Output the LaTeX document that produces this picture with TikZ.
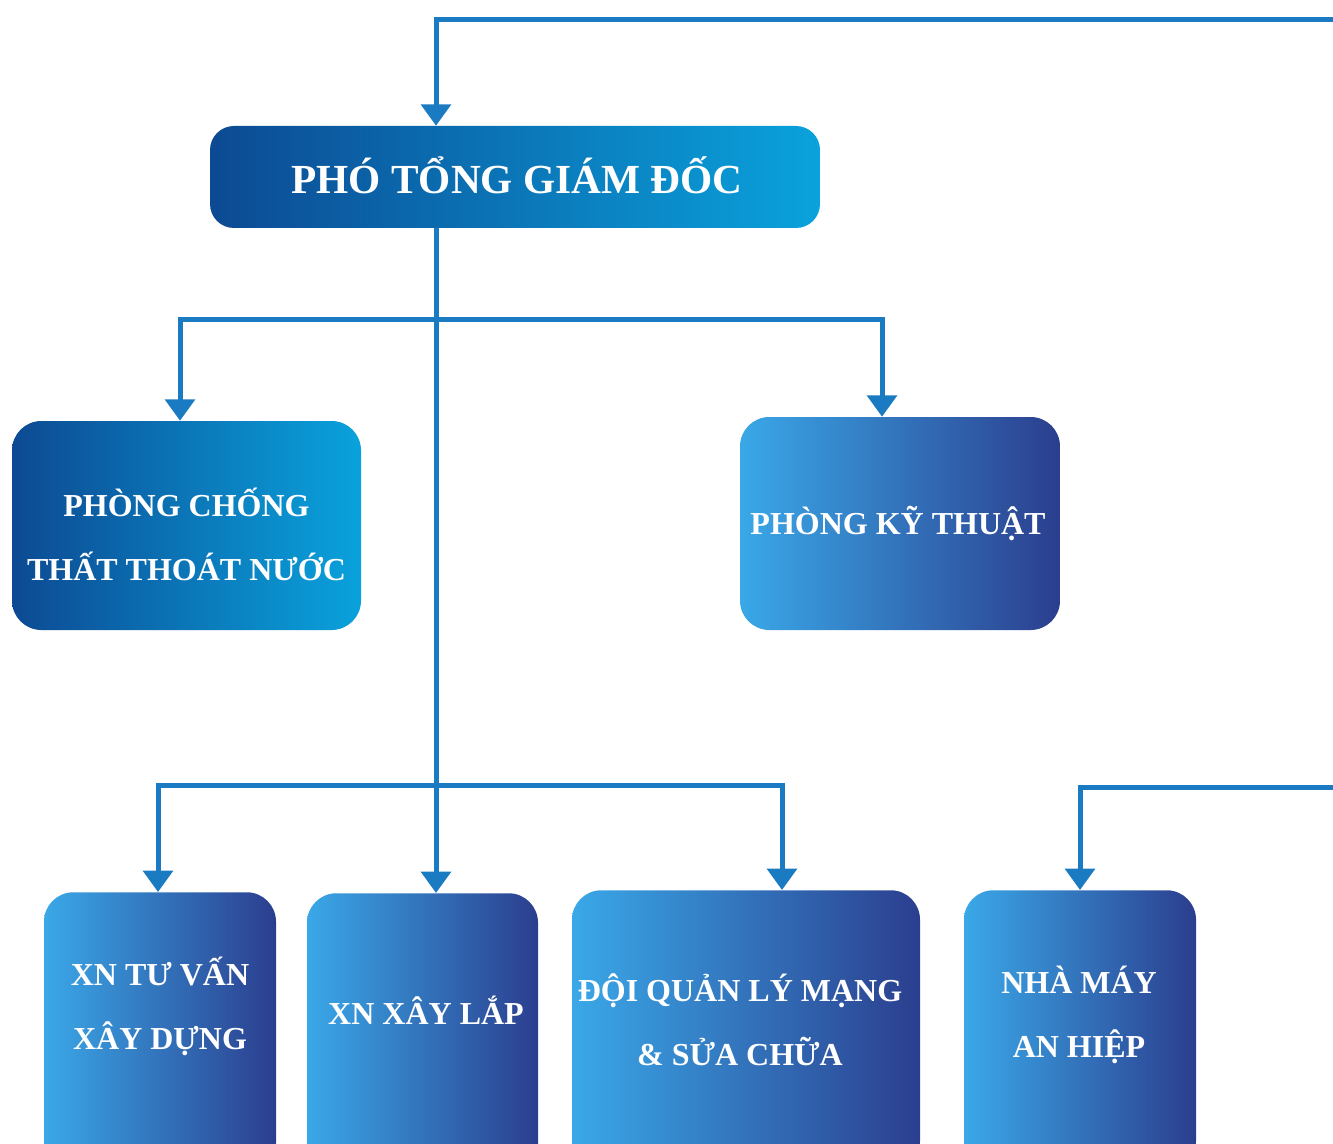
\documentclass[tikz,border=0pt]{standalone}
\usepackage{fontspec}
\setmainfont{Liberation Serif}
\usetikzlibrary{arrows.meta}
\definecolor{xanhDam}{HTML}{0C4A93}
\definecolor{xanhNhat}{HTML}{0AA2DC}
\definecolor{xanhSang}{HTML}{3AA8E8}
\definecolor{xanhTim}{HTML}{2B3E8E}
\definecolor{mauDuong}{HTML}{1A7AC2}
\begin{document}
\begin{tikzpicture}[x=0.75pt,y=-0.75pt]
	\useasboundingbox (0,0) rectangle (1333,1144);
	\clip (0,0) rectangle (1333,1144);
	\tikzset{
		hop/.style={rounded corners=22pt,inner sep=0pt,text=white,align=center,
			font=\fontsize{24}{48}\selectfont\bfseries},
		hopA/.style={hop,left color=xanhDam,right color=xanhNhat},
		hopB/.style={hop,left color=xanhSang,right color=xanhTim},
		chu/.style={text=white,align=center,font=\fontsize{24}{48}\selectfont\bfseries},
		duongNoi/.style={draw=mauDuong,line width=3.75pt,line join=miter},
		muiTen/.style={duongNoi,-{Triangle[width=22pt,length=16pt]}}
	}
	% cac o
	\node[hopA,minimum width=457.5pt,minimum height=76.5pt,rounded corners=18pt] (ptgd) at (515,177) {};
	\node[hopA,minimum width=261.75pt,minimum height=156.75pt] (pc) at (186.5,525.5) {};
	\node[hopB,minimum width=240pt,minimum height=159.75pt] (pkt) at (900,523.5) {};
	\node[hopB,anchor=north,minimum width=174pt,minimum height=210pt] (xtv) at (160,892) {};
	\node[hopB,anchor=north,minimum width=173.25pt,minimum height=210pt] (xxl) at (422.5,893) {};
	\node[hopB,anchor=north,minimum width=261pt,minimum height=210pt] (doi) at (746,890) {};
	\node[hopB,anchor=north,minimum width=174pt,minimum height=210pt] (nm) at (1080,890) {};
	% chu trong o
	\node[chu,font=\fontsize{31}{36}\selectfont\bfseries] (ptgd-t) at (517,175) {PHÓ TỔNG GIÁM ĐỐC};
	\node[chu] (pc-t) at (186.5,534) {PHÒNG CHỐNG\\THẤT THOÁT NƯỚC};
	\node[chu] (pkt-t) at (898,523) {PHÒNG KỸ THUẬT};
	\node[chu] (xtv-t) at (160,1006) {XN TƯ VẤN\\XÂY DỰNG};
	\node[chu] (xxl-t) at (426,1010) {XN XÂY LẮP};
	\node[chu] (doi-t) at (740,1020) {ĐỘI QUẢN LÝ MẠNG\\\& SỬA CHỮA};
	\node[chu] (nm-t) at (1079,1015) {NHÀ MÁY\\AN HIỆP};
	% duong noi
	\coordinate (t) at (436,20);
	\coordinate (vao1) at (1345,20);
	\coordinate (vao2) at (1345,787);
	\coordinate (b1) at (180,320);
	\coordinate (b2) at (882,320);
	\coordinate (c1) at (158,785);
	\coordinate (c2) at (782,785);
	\draw[muiTen] (vao1) -| (t |- ptgd.north);
	\draw[muiTen] (t |- ptgd.south) -- (t |- xxl.north);
	\draw[muiTen] (t |- b1) -| (b1 |- pc.north);
	\draw[muiTen] (t |- b2) -| (b2 |- pkt.north);
	\draw[muiTen] (t |- c1) -| (c1 |- xtv.north);
	\draw[muiTen] (t |- c2) -| (c2 |- doi.north);
	\draw[muiTen] (vao2) -| (nm.north);
\end{tikzpicture}
\end{document}
